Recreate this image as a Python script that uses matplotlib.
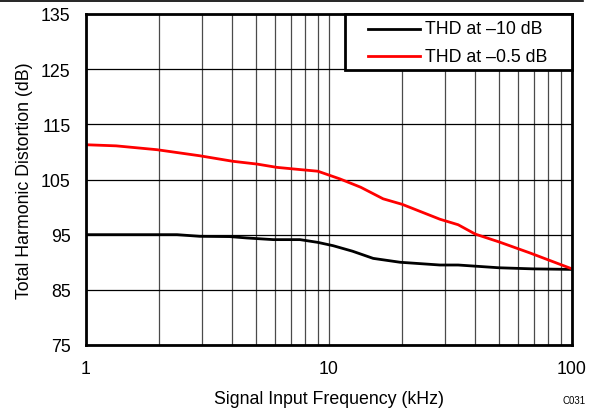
import matplotlib
matplotlib.use("Agg")
import matplotlib.pyplot as plt
from matplotlib.lines import Line2D
from matplotlib.patches import Rectangle
from matplotlib.ticker import FixedLocator, NullFormatter

plt.rcParams['font.family'] = ['Liberation Sans', 'DejaVu Sans']

# Signal input frequency (kHz) and THD (dB)
freq_10db = [1, 1.5, 2.37, 2.94, 3.9, 4.6, 5.9, 7.6, 9.0, 10.4, 12.5, 15.2, 19.6, 28.6, 34.0, 50, 69, 100]
thd_10db = [95.0, 95.0, 95.0, 94.7, 94.65, 94.4, 94.1, 94.1, 93.6, 93.0, 92.0, 90.7, 90.0, 89.5, 89.5, 89.0, 88.8, 88.7]

freq_05db = [1, 1.33, 1.96, 2.94, 4.02, 5.05, 6.1, 7.6, 9.0, 11.1, 13.5, 16.7, 20, 28.6, 34.0, 40, 50, 67, 100]
thd_05db = [111.3, 111.1, 110.4, 109.3, 108.3, 107.8, 107.2, 106.8, 106.5, 105.1, 103.6, 101.5, 100.5, 97.8, 96.8, 95.1, 93.7, 91.7, 88.8]

series_labels = ['THD at \u201310 dB', 'THD at \u20130.5 dB']
series_colors = ['black', '#ff0000']

y_ticks = [75, 85, 95, 105, 115, 125, 135]
x_ticks = [1, 10, 100]
x_tick_labels = ["1", "10", "100"]

FS = 12.8

fig = plt.figure(figsize=(5.89, 4.10), dpi=100)
ax = fig.add_axes([86 / 589, 1 - 346 / 410, (572 - 86) / 589, (346 - 15) / 410])

ax.set_xscale('log')
ax.set_xlim(1, 100)
ax.set_ylim(75, 135)

ax.xaxis.set_major_locator(FixedLocator(x_ticks))
ax.set_xticklabels(x_tick_labels)
minor = [m * d for d in (1, 10) for m in range(2, 10)]
ax.xaxis.set_minor_locator(FixedLocator(minor))
ax.xaxis.set_minor_formatter(NullFormatter())
ax.set_yticks(y_ticks)

ax.grid(True, which='both', axis='x', color='#4a4a4a', linewidth=0.9)
ax.grid(True, which='major', axis='y', color='black', linewidth=0.9)
ax.tick_params(which='both', length=0, labelsize=FS)
ax.tick_params(axis='y', pad=11)
ax.tick_params(axis='x', pad=11)

for s in ax.spines.values():
    s.set_linewidth(2)
    s.set_color('black')
    s.set_zorder(5)

ax.plot(freq_10db, thd_10db, color=series_colors[0], linewidth=2)
ax.plot(freq_05db, thd_05db, color=series_colors[1], linewidth=2)

# Legend box drawn in axes coordinates, flush with the upper-right corner
box_x0, box_y0 = 0.533, 0.831
ax.add_patch(Rectangle((box_x0, box_y0), 1 - box_x0, 1 - box_y0, transform=ax.transAxes,
                       facecolor='white', edgecolor='black', linewidth=2, zorder=6,
                       clip_on=False))
row_y = [0.955, 0.873]
for lbl, col, yy in zip(series_labels, series_colors, row_y):
    ax.add_line(Line2D([0.580, 0.687], [yy, yy], color=col, linewidth=2,
                       transform=ax.transAxes, zorder=7, clip_on=False))
    ax.text(0.698, yy, lbl, transform=ax.transAxes, fontsize=FS, ha='left', va='center',
            zorder=7)

ax.set_xlabel('Signal Input Frequency (kHz)', fontsize=FS, labelpad=9)
ax.set_ylabel('Total Harmonic Distortion (dB)', fontsize=FS, labelpad=6)

fig.text(574.5 / 589, 1 - 401 / 410, 'C031', fontsize=7, ha='center', va='center')
fig.add_artist(Line2D([0, 583 / 589], [1 - 1.5 / 410, 1 - 1.5 / 410], color='black', linewidth=1.2,
                      transform=fig.transFigure))

fig.savefig('out.png', dpi=100)
